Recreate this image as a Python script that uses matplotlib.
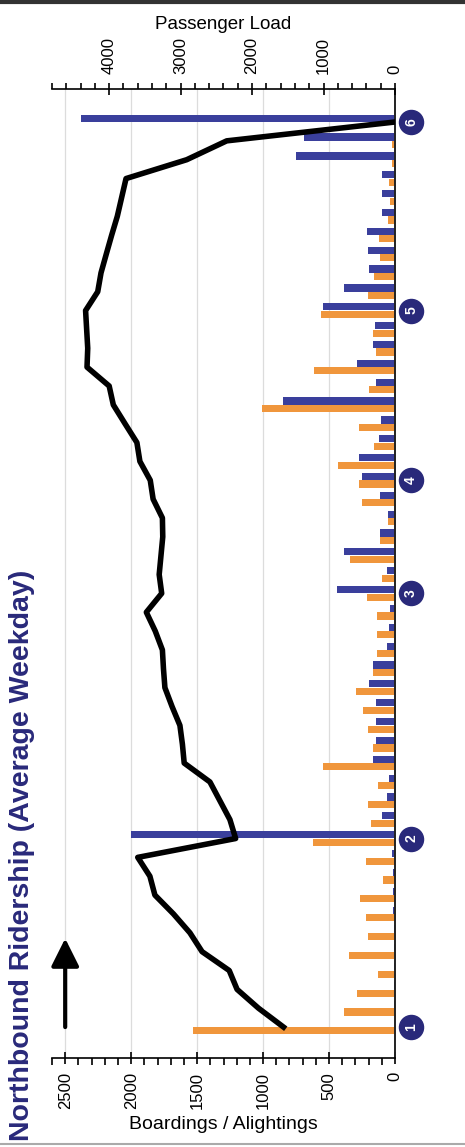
import numpy as np
import matplotlib.pyplot as plt
from matplotlib.ticker import MultipleLocator
from matplotlib.lines import Line2D

plt.rcParams['font.family'] = ['Liberation Sans', 'DejaVu Sans']

# stops along the route, first to last (49 stops)
boardings = [1530, 384, 290, 126, 346, 202, 222, 265, 88, 220,
             624, 184, 207, 131, 548, 169, 202, 245, 296, 169,
             134, 139, 139, 210, 101, 341, 114, 51, 253, 273,
             430, 159, 270, 1011, 197, 614, 144, 169, 561, 207,
             157, 114, 121, 50, 35, 45, 20, 20, 0]
alightings = [0, 5, 5, 5, 10, 10, 15, 15, 15, 25,
              2004, 101, 63, 43, 169, 144, 144, 144, 195, 169,
              60, 44, 38, 440, 63, 384, 114, 51, 114, 253,
              273, 119, 108, 847, 147, 290, 169, 154, 543, 384,
              195, 205, 210, 96, 96, 96, 753, 688, 2383]
passenger_load = [1560, 1910, 2210, 2320, 2700, 2870, 3100, 3360, 3430, 3600,
                  2230, 2310, 2450, 2590, 2950, 2975, 3010, 3120, 3220, 3240,
                  3255, 3355, 3480, 3265, 3300, 3275, 3250, 3255, 3385, 3425,
                  3570, 3612, 3778, 3942, 4000, 4310, 4300, 4315, 4330, 4160,
                  4114, 4040, 3965, 3886, 3825, 3764, 2915, 2355, 0]
timepoint_labels = ['1', '2', '3', '4', '5', '6']
timepoint_stops = [0, 10, 23, 29, 38, 48]

orange = '#F0963C'
blue = '#3A3F9C'
navy = '#29297A'

fig = plt.figure(figsize=(4.65, 11.47), dpi=100)
ax = fig.add_axes([52 / 465, 89 / 1147, 343 / 465, 969 / 1147])

idx = np.arange(len(boardings))
ax.barh(idx - 0.2, boardings, height=0.38, color=orange, zorder=2)
ax.barh(idx + 0.2, alightings, height=0.38, color=blue, zorder=2)
ax.set_xlim(2600, 0)
ax.set_ylim(-1.64, 49.75)
ax.set_yticks([])
ax.xaxis.set_major_locator(MultipleLocator(500))
ax.xaxis.set_minor_locator(MultipleLocator(100))
ax.tick_params(axis='x', which='major', direction='inout', length=8, width=1.2,
               labelsize=12, labelrotation=90, pad=6)
ax.tick_params(axis='x', which='minor', direction='out', length=5, width=1.2)
ax.grid(axis='x', color='#dcdcdc', lw=0.9)
ax.set_axisbelow(True)
for s in ['left', 'top']:
    ax.spines[s].set_visible(False)
ax.spines['right'].set_linewidth(1.4)
ax.spines['right'].set_color('#222222')
ax.spines['bottom'].set_linewidth(1.2)
ax.set_xlabel('Boardings / Alightings', fontsize=14, labelpad=5)

# direction arrow
ax.annotate('', xy=(2500, 4.7), xytext=(2500, 0.0),
            arrowprops=dict(arrowstyle='-|>,head_width=0.5,head_length=1.0',
                            lw=3, color='black', mutation_scale=17,
                            shrinkA=0, shrinkB=0))

ax2 = ax.twiny()
ax2.plot(passenger_load, idx, color='black', lw=4, solid_joinstyle='round', zorder=3)
ax2.set_xlim(4800, 0)
ax2.xaxis.set_major_locator(MultipleLocator(1000))
ax2.xaxis.set_minor_locator(MultipleLocator(200))
ax2.tick_params(axis='x', which='major', direction='inout', length=9, width=1.2,
                labelsize=12, labelrotation=90, pad=6)
ax2.tick_params(axis='x', which='minor', direction='out', length=4, width=1.2)
for s in ['left', 'right', 'bottom']:
    ax2.spines[s].set_visible(False)
ax2.spines['top'].set_linewidth(1.2)
ax2.set_xlabel('Passenger Load', fontsize=13.5, labelpad=6)

# timepoint markers
trans = ax2.get_yaxis_transform()
ax2.scatter([1.047] * len(timepoint_stops), timepoint_stops, s=300, color=navy,
            transform=trans, clip_on=False, zorder=6)
for lab, pos in zip(timepoint_labels, timepoint_stops):
    ax2.text(1.047, pos, lab, transform=trans, color='white', fontsize=10,
             fontweight='bold', rotation=90, ha='center', va='center',
             zorder=7, clip_on=False)

fig.text(22 / 465, 6 / 1147, 'Northbound Ridership (Average Weekday)',
         rotation=90, ha='center', va='bottom', fontsize=20.5,
         fontweight='bold', color=navy)

fig.add_artist(Line2D([0, 1], [1 - 1.5 / 1147] * 2, transform=fig.transFigure,
                      color='#333333', lw=3))
fig.add_artist(Line2D([0, 1], [3 / 1147] * 2, transform=fig.transFigure,
                      color='#aaaaaa', lw=1.5))

fig.savefig('out.png', dpi=100)
